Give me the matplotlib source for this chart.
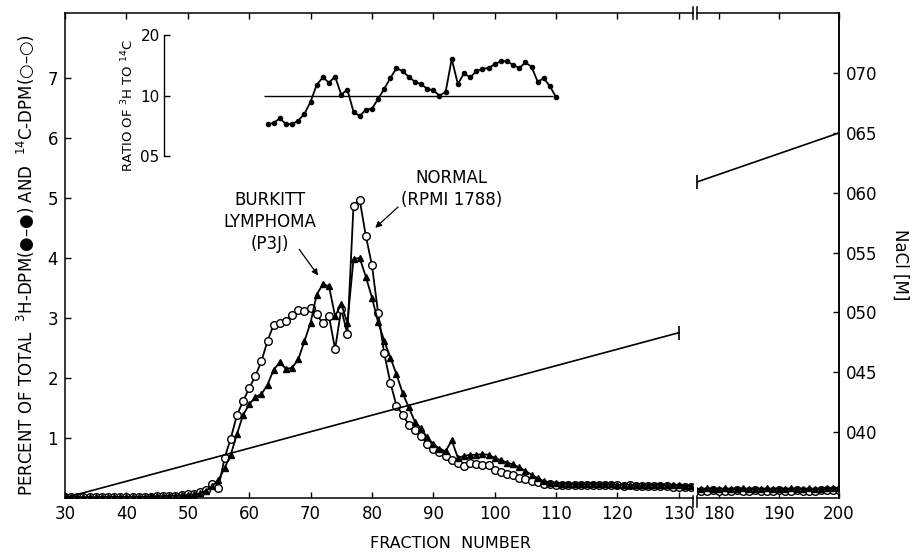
import numpy as np
import matplotlib
matplotlib.use('Agg')
import matplotlib.pyplot as plt

# fractions, left part of the broken x axis
frac_a = np.arange(30, 133)
h3_a = [0.03, 0.02, 0.02, 0.01, 0.02, 0.01, 0.02, 0.02, 0.02, 0.02,
        0.02, 0.02, 0.02, 0.02, 0.03, 0.03, 0.03, 0.04, 0.04, 0.05,
        0.05, 0.06, 0.08, 0.12, 0.20, 0.30, 0.50, 0.72, 1.06, 1.38,
        1.56, 1.68, 1.73, 1.89, 2.14, 2.26, 2.15, 2.17, 2.31, 2.61,
        2.92, 3.39, 3.56, 3.53, 3.03, 3.23, 2.92, 3.98, 4.00, 3.69,
        3.34, 2.93, 2.62, 2.34, 2.06, 1.75, 1.51, 1.27, 1.16, 1.01,
        0.90, 0.82, 0.78, 0.96, 0.67, 0.70, 0.72, 0.72, 0.73, 0.72,
        0.67, 0.63, 0.59, 0.56, 0.51, 0.45, 0.39, 0.33, 0.28, 0.25,
        0.25, 0.24, 0.24, 0.23, 0.23, 0.23, 0.24, 0.23, 0.23, 0.23,
        0.22, 0.22, 0.22, 0.21, 0.21, 0.21, 0.22, 0.22, 0.21, 0.21,
        0.21, 0.20, 0.20]
c14_a = [0.02, 0.01, 0.01, 0.01, 0.01, 0.01, 0.02, 0.02, 0.02, 0.02,
         0.02, 0.02, 0.02, 0.02, 0.02, 0.03, 0.03, 0.03, 0.04, 0.05,
         0.06, 0.07, 0.10, 0.14, 0.23, 0.17, 0.67, 0.99, 1.38, 1.61,
         1.83, 2.03, 2.28, 2.62, 2.89, 2.92, 2.95, 3.05, 3.13, 3.11,
         3.17, 3.06, 2.91, 3.03, 2.48, 3.15, 2.73, 4.87, 4.97, 4.37,
         3.88, 3.09, 2.41, 1.92, 1.54, 1.39, 1.22, 1.13, 1.03, 0.90,
         0.81, 0.77, 0.70, 0.63, 0.59, 0.53, 0.58, 0.56, 0.55, 0.55,
         0.47, 0.44, 0.40, 0.38, 0.34, 0.31, 0.29, 0.26, 0.24, 0.23,
         0.22, 0.22, 0.22, 0.22, 0.22, 0.21, 0.22, 0.21, 0.21, 0.21,
         0.21, 0.20, 0.21, 0.20, 0.20, 0.20, 0.20, 0.20, 0.20, 0.19,
         0.19, 0.19, 0.18]

# right part of the broken x axis
frac_b = np.arange(176, 201)
h3_b = [0.15, 0.15, 0.16, 0.15, 0.15, 0.16, 0.15, 0.15, 0.16, 0.15,
        0.15, 0.15, 0.16, 0.15, 0.15, 0.15, 0.16, 0.15, 0.15, 0.16,
        0.15, 0.15, 0.16, 0.16, 0.16]
c14_b = [0.12, 0.12, 0.12, 0.13, 0.12, 0.12, 0.12, 0.13, 0.12, 0.12,
         0.13, 0.12, 0.12, 0.12, 0.13, 0.12, 0.12, 0.13, 0.12, 0.12,
         0.12, 0.13, 0.13, 0.13, 0.13]

# ratio 3H / 14C (inset)
frac_r = np.arange(63, 111)
ratio = [0.72, 0.73, 0.77, 0.72, 0.72, 0.75, 0.81, 0.93, 1.13, 1.23,
         1.16, 1.24, 1.01, 1.07, 0.83, 0.79, 0.85, 0.86, 0.96, 1.08,
         1.22, 1.37, 1.32, 1.24, 1.17, 1.14, 1.08, 1.06, 1.00, 1.04,
         1.52, 1.14, 1.29, 1.23, 1.32, 1.36, 1.37, 1.43, 1.48, 1.48,
         1.42, 1.37, 1.46, 1.39, 1.17, 1.22, 1.11, 0.98]

# NaCl gradient
nacl_frac_a = [30, 130]
nacl_a = [0.0345, 0.0483]
nacl_frac_b = [176.3, 200]
nacl_b = [0.0609, 0.0650]

nacl_ticks = [0.040, 0.045, 0.050, 0.055, 0.060, 0.065, 0.070]
nacl_labels = ['040', '045', '050', '055', '060', '065', '070']

FS = 12
plt.rcParams['font.family'] = ['DejaVu Sans']
plt.rcParams['axes.linewidth'] = 1.1

fig = plt.figure(figsize=(9.14, 5.52), dpi=100)

bot, hgt = 0.0978, 0.8786
ax1 = fig.add_axes([0.0711, bot, 0.6871, hgt])
ax2 = fig.add_axes([0.7626, bot, 0.1554, hgt])

ylo, yhi = 0, 8.08
nlo, nhi = 0.03448, 0.07502

for ax, fr, h3, c14 in [(ax1, frac_a, h3_a, c14_a), (ax2, frac_b, h3_b, c14_b)]:
    ax.plot(fr, c14, '-o', color='black', mfc='white', mec='black',
            ms=5.5, lw=1.3, mew=1.0, zorder=3)
    ax.plot(fr, h3, '-^', color='black', ms=4, lw=1.3, zorder=4)
    ax.set_ylim(ylo, yhi)
    ax.tick_params(direction='in', length=4, width=1, labelsize=FS,
                   top=True, pad=5)

ax1.set_xlim(30, 132.3)
ax2.set_xlim(176.3, 200)
ax1.set_xticks(range(30, 131, 10))
ax2.set_xticks([180, 190, 200])
ax1.set_yticks(range(1, 8))
ax2.set_yticks([])
ax1.spines['right'].set_visible(False)
ax2.spines['left'].set_visible(False)

# NaCl axes
ax1r = ax1.twinx()
ax2r = ax2.twinx()
for axr in (ax1r, ax2r):
    axr.set_ylim(nlo, nhi)
    for s in ('top', 'bottom', 'left'):
        axr.spines[s].set_visible(False)
ax1r.spines['right'].set_visible(False)
ax1r.set_yticks([])
ax2r.set_yticks(nacl_ticks)
ax2r.set_yticklabels(nacl_labels)
ax2r.tick_params(direction='in', length=4, width=1, labelsize=FS, pad=5)

ax1r.plot(nacl_frac_a, nacl_a, color='black', lw=1.2)
ax1r.plot(nacl_frac_a[-1], nacl_a[-1], marker='|', color='black', ms=10, mew=1.2)
ax2r.plot(nacl_frac_b, nacl_b, color='black', lw=1.2)
ax2r.plot(nacl_frac_b[0], nacl_b[0], marker='|', color='black', ms=10, mew=1.2,
          clip_on=False)

# axis break marks
kw = dict(color='black', lw=1.1, clip_on=False)
ax1.plot([1, 1], [0.988, 1.012], transform=ax1.transAxes, **kw)
ax2.plot([0, 0], [0.988, 1.012], transform=ax2.transAxes, **kw)
ax1.plot([1, 1], [-0.018, 0.004], transform=ax1.transAxes, **kw)
ax2.plot([0, 0], [-0.018, 0.004], transform=ax2.transAxes, **kw)

# labels
fig.text(26 / 914, 0.52,
         'PERCENT OF TOTAL  $^{3}$H-DPM(●–●) AND  $^{14}$C-DPM(○–○)',
         rotation=90, ha='center', va='center', fontsize=FS)
fig.text(450 / 914, 1 - 543 / 552, 'FRACTION  NUMBER',
         ha='center', va='center', fontsize=FS - 0.5)
fig.text(900 / 914, 1 - 265 / 552, 'NaCl [M]', rotation=270,
         ha='center', va='center', fontsize=FS)

ax1.text(63.4, 4.6, 'BURKITT\nLYMPHOMA\n(P3J)', ha='center', va='center',
         fontsize=FS, linespacing=1.3)
ax1.annotate('', xy=(71.5, 3.67), xytext=(67.9, 4.18),
             arrowprops=dict(arrowstyle='-|>', color='black', lw=0.9,
                             mutation_scale=9))
ax1.text(93.0, 5.15, 'NORMAL\n(RPMI 1788)', ha='center', va='center',
         fontsize=FS, linespacing=1.3)
ax1.annotate('', xy=(80.2, 4.47), xytext=(84.6, 4.88),
             arrowprops=dict(arrowstyle='-|>', color='black', lw=0.9,
                             mutation_scale=9))

# inset: ratio of 3H to 14C
ins = fig.add_axes([0.0711, 1 - 156 / 552, 0.6871, 121 / 552])
ins.patch.set_visible(False)
ins.set_xlim(30, 132.3)
ins.set_yscale('log')
ins.set_ylim(0.5, 2.0)
for s in ('top', 'bottom', 'right'):
    ins.spines[s].set_visible(False)
ins.spines['left'].set_position(('data', 46.1))
ins.spines['left'].set_linewidth(1.0)
ins.set_xticks([])
ins.set_yticks([0.5, 1.0, 2.0])
ins.set_yticklabels(['05', '10', '20'])
ins.minorticks_off()
ins.tick_params(axis='y', direction='in', length=4, width=1, labelsize=FS - 1, pad=3)
ins.hlines(1.0, 62.5, 109.5, color='black', lw=1.0)
ins.plot(frac_r, ratio, '-o', color='black', ms=3, lw=1.3)
fig.text(128 / 914, 1 - 105 / 552, 'RATIO OF $^{3}$H TO $^{14}$C', rotation=90,
         ha='center', va='center', fontsize=FS - 2.5)

fig.savefig('out.png', dpi=100)
